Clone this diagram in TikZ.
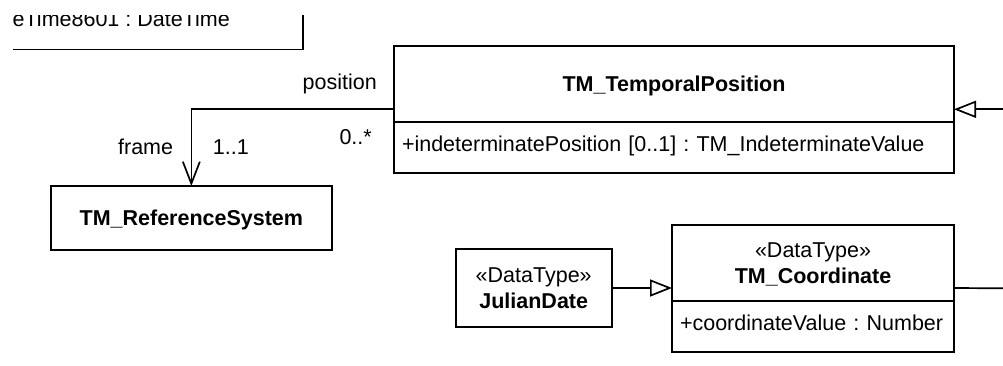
\documentclass[tikz,border=0pt]{standalone}
\usepackage{fontspec}
\setmainfont{Liberation Sans}
\usetikzlibrary{positioning}
\usetikzlibrary{arrows.meta}

\tikzset{
  umlbox/.style={draw, line width=1.7pt, outer sep=0pt, inner sep=0pt},
  umltitle/.style={umlbox, font=\bfseries, text height=15.4pt, text depth=0pt},
  umltype/.style={umlbox, align=center, text depth=0pt},
  umlattr/.style={umlbox, align=left, inner xsep=8pt, text height=15.4pt, text depth=7pt},
  assoc/.style={line width=1.7pt, -{Straight Barb[length=22pt,width=17pt]}},
  generalise/.style={line width=1.7pt, -{Triangle[open,length=22pt,width=17pt]}},
  rolelabel/.style={inner sep=0pt}
}

\begin{document}
\fontsize{21.5}{26}\selectfont
\frenchspacing
\begin{tikzpicture}[x=1pt,y=-1pt]
\useasboundingbox (0,0) rectangle (1003,365);

\begin{scope}
\clip (13,15.5) rectangle (1003,365);
\node [umlbox, anchor=south east, minimum width=400pt, minimum height=80pt]
       (dt) at (303,49.5) {};
\node [rolelabel, anchor=base west]
       (dtattr) at (12.5,26.5) {eTime8601 : DateTime};
\end{scope}

\node [umltitle, minimum width=560pt, minimum height=76pt]
       (tp) at (674,83.7) {TM\_TemporalPosition};
\node [umlattr, text width=544pt, minimum height=51.6pt, below=0pt of tp]
       (tpa) {\mbox{+indeterminatePosition [0..1] : TM\_IndeterminateValue}};

\node [umltitle, minimum width=280.7pt, minimum height=64pt]
       (rs) at (191.35,218) {TM\_ReferenceSystem};

\node [umltype, minimum width=156pt, minimum height=77.4pt]
       (jd) at (533.7,288) {«DataType»\\\textbf{JulianDate}};

\node [umltype, minimum width=282pt, minimum height=76pt]
       (co) at (813,263) {«DataType»\\\textbf{TM\_Coordinate}};
\node [umlattr, text width=266pt, minimum height=50.7pt, below=0pt of co]
       (coa) {\mbox{+coordinateValue : Number}};

\coordinate (tpend) at (1003,109.3);
\coordinate (coend) at (1003,288.3);

\draw [assoc] ([yshift=-25.6pt]tp.west) -| (rs.north);
\draw [generalise] (tpend) -- (tpend -| tp.east);
\draw [generalise] (jd.east) -- (jd.east -| co.west);
\draw [line width=1.7pt] (jd.east -| co.east) -- (coend);

\node [rolelabel, anchor=base east] (tppos) at (377,89) {position};
\node [rolelabel, anchor=base east] (tpmult) at (372,144) {0..*};
\node [rolelabel, anchor=base east] (rsrole) at (173.3,154) {frame};
\node [rolelabel, anchor=base west] (rsmult) at (212.7,154) {1..1};
\end{tikzpicture}
\end{document}
